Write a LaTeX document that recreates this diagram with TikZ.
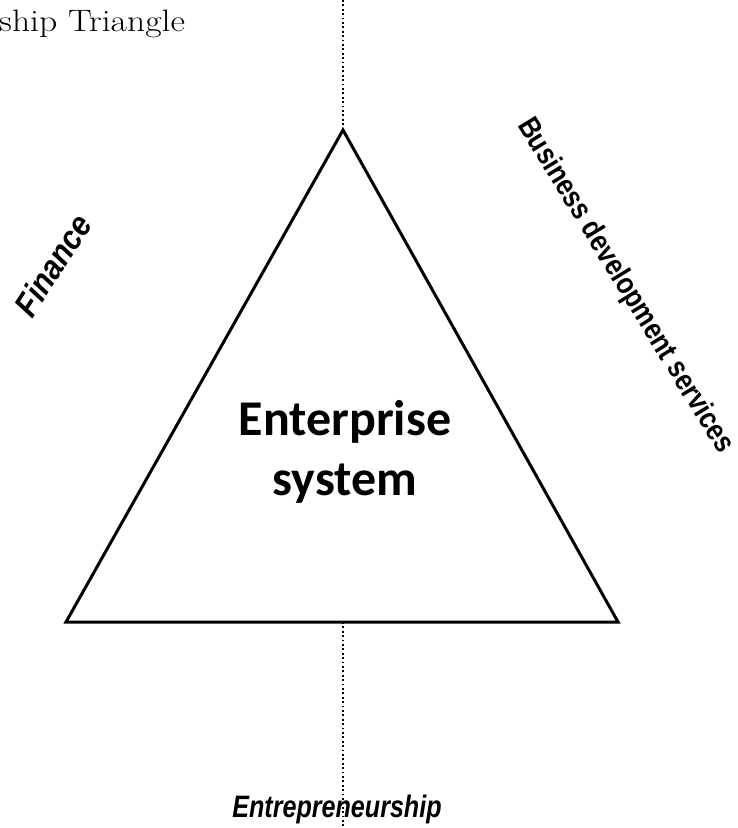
\documentclass[tikz,border=0pt]{standalone}
\usepackage{fontspec}
\setmainfont{Latin Modern Roman}
\newfontfamily\labelfont{Liberation Sans}
\newfontfamily\calibrifont{Carlito}
\begin{document}
\begin{tikzpicture}[x=1pt,y=-1pt,
  edge/.style={line width=3pt, line join=miter},
  guide/.style={line width=1.7pt, dash pattern=on 1.7pt off 2.7pt},
  sidelabel/.style={inner sep=0pt, font=\labelfont\bfseries\itshape\fontsize{34}{34}\selectfont},
  corelabel/.style={inner sep=0pt, font=\calibrifont\bfseries\fontsize{50}{50}\selectfont}]
  \useasboundingbox (0,0) rectangle (738,828);

  % triangle corners and guide ends
  \coordinate (apex) at (343,130);
  \coordinate (bl) at (66,622);
  \coordinate (br) at (618,622);
  \coordinate (basemid) at (343,622);
  \coordinate (topend) at (343,0);
  \coordinate (botend) at (343,828);

  % caption fragment
  \node[anchor=base west, inner sep=0pt, xscale=1.15, font=\fontsize{31}{31}\selectfont] (caption) at (-1,31) {ship Triangle};

  % vertical dotted guides
  \draw[guide] (topend) -- (apex);
  \draw[guide] (basemid) -- (botend);

  % triangle
  \draw[edge] (apex) -- (br) -- (bl) -- cycle;

  % centre text
  \node[corelabel, anchor=base] (ent1) at (345,435) {Enterprise};
  \node[corelabel, anchor=base] (ent2) at (345,495) {system};

  % side labels
  \node[sidelabel, rotate=57, xscale=0.88] (finance) at (53,265) {Finance};
  \node[sidelabel, font=\labelfont\bfseries\fontsize{30}{30}\selectfont, rotate=-58.5, xscale=0.85] (bds) at (625,286) {Business development services};
  \node[sidelabel, font=\labelfont\bfseries\itshape\fontsize{31}{31}\selectfont, anchor=base, xscale=0.81] (entre) at (337,817) {Entrepreneurship};
\end{tikzpicture}
\end{document}
